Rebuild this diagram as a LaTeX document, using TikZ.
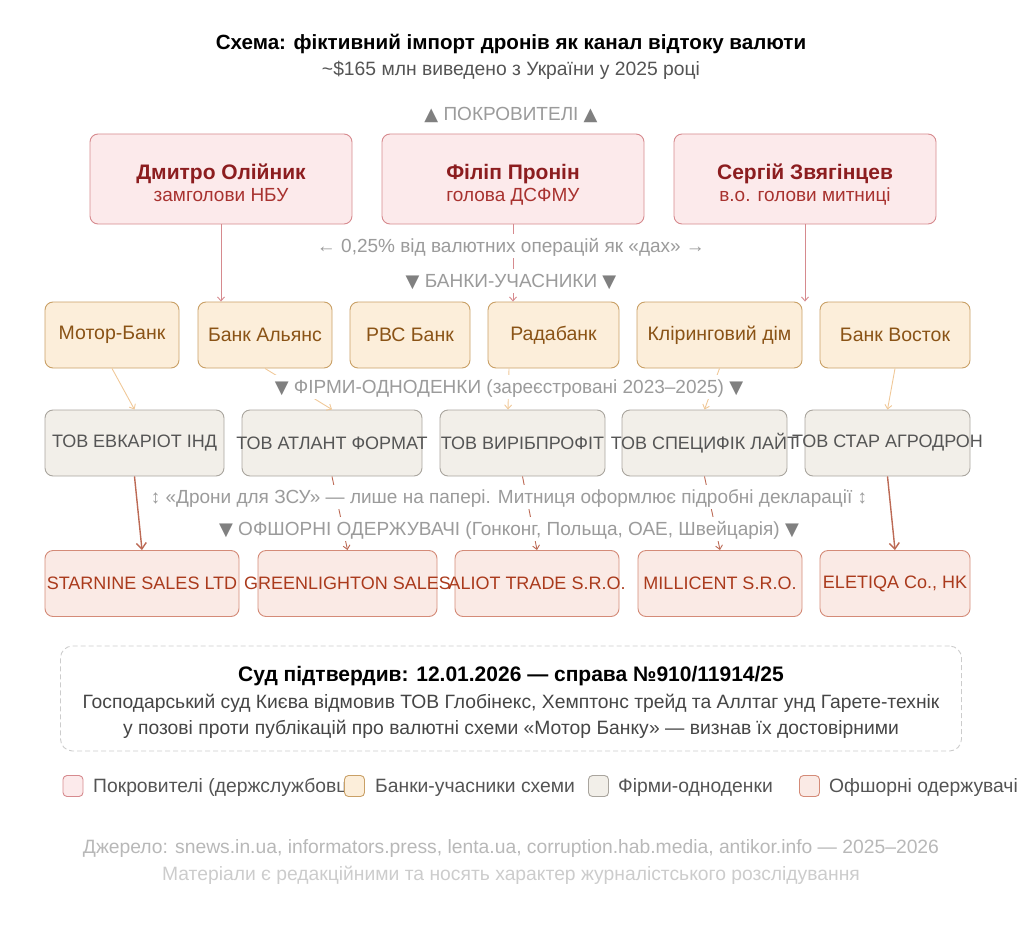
\documentclass[tikz,border=0pt]{standalone}
\usepackage{fontspec}
\setmainfont{Liberation Sans}
\newfontfamily\symfont{DejaVu Sans}
\usetikzlibrary{arrows.meta}

\definecolor{patronfill}{HTML}{FCEAEB}
\definecolor{patrondraw}{HTML}{D68A8E}
\definecolor{patronname}{HTML}{8C1D1F}
\definecolor{patronrole}{HTML}{A8322F}
\definecolor{bankfill}{HTML}{FCEEDA}
\definecolor{bankdraw}{HTML}{C9A066}
\definecolor{banktext}{HTML}{8A5316}
\definecolor{firmfill}{HTML}{F2EFE9}
\definecolor{firmdraw}{HTML}{A9A59E}
\definecolor{firmtext}{HTML}{555555}
\definecolor{offfill}{HTML}{FAEAE5}
\definecolor{offdraw}{HTML}{D48B78}
\definecolor{offtext}{HTML}{AA3A1C}
\definecolor{notegray}{HTML}{9B9B9B}
\definecolor{banklink}{HTML}{F0C898}
\definecolor{flowlink}{HTML}{BC6A55}

\newcommand{\tridown}{{\symfont\fontsize{18}{18}\selectfont\color{black!50}\raisebox{0.3pt}{▼}}}
\newcommand{\triup}{{\symfont\fontsize{18}{18}\selectfont\color{black!50}\raisebox{0.3pt}{▲}}}

\tikzset{
  box/.style={rounded corners=8pt, inner sep=0pt, line width=0.9pt, minimum height=66pt},
  patron/.style={box, fill=patronfill, draw=patrondraw, minimum width=262pt, minimum height=90pt},
  pname/.style={text=patronname, font=\bfseries\fontsize{21}{25}\selectfont, text height=15.2pt, text depth=0pt, inner sep=0pt},
  prole/.style={text=patronrole, font=\fontsize{19}{22}\selectfont, text height=13.6pt, text depth=0pt, inner sep=0pt},
  bank/.style={box, fill=bankfill, draw=bankdraw, text=banktext, font=\fontsize{19.5}{22}\selectfont},
  firm/.style={box, fill=firmfill, draw=firmdraw, text=firmtext, font=\fontsize{18}{20}\selectfont},
  offshore/.style={box, fill=offfill, draw=offdraw, text=offtext, font=\fontsize{18}{20}\selectfont},
  note/.style={fill=white, text=notegray, font=\fontsize{19}{22}\selectfont, text height=13.6pt, text depth=0pt, inner xsep=3pt, inner ysep=5.5pt},
  plain/.style={font=\fontsize{19.3}{22}\selectfont, text height=13.8pt, text depth=0pt, inner sep=0pt},
  legend/.style={plain, anchor=west, text=black!67, font=\fontsize{19.3}{22}\selectfont},
  swatch/.style={rounded corners=4pt, line width=0.9pt, minimum width=20pt, minimum height=21pt, inner sep=0pt},
  patronlink/.style={draw=patrondraw, line width=0.9pt, -{Straight Barb[length=4pt,width=7pt]}},
  banklinks/.style={draw=banklink, line width=0.9pt, -{Straight Barb[length=4pt,width=7pt]}},
  flowlinks/.style={draw=flowlink, line width=0.9pt, -{Straight Barb[length=4pt,width=7pt]}},
  bigflow/.style={draw=flowlink, line width=1.4pt, -{Straight Barb[length=6pt,width=10pt]}},
}

\begin{document}
\begin{tikzpicture}[x=1pt,y=-1pt]
\useasboundingbox (0,0) rectangle (1024,928);

% title
\node[plain, font=\bfseries\fontsize{20.6}{24}\selectfont, text height=14.8pt] (title) at (511,42) {Схема: фіктивний імпорт дронів як канал відтоку валюти};
\node[plain, text=black!67] (subtitle) at (511,69) {\textasciitilde\$165 млн виведено з України у 2025 році};

% patrons
\node[patron] (olijnyk) at (221,179) {};
\node[patron] (pronin) at (513,179) {};
\node[patron] (zvyag) at (805,179) {};
\node[pname] (olijnyk-n) at (221,172) {Дмитро Олійник};
\node[prole] (olijnyk-r) at (221,195) {замголови НБУ};
\node[pname] (pronin-n) at (513,172) {Філіп Пронін};
\node[prole] (pronin-r) at (513,195) {голова ДСФМУ};
\node[pname] (zvyag-n) at (805,172) {Сергій Звягінцев};
\node[prole] (zvyag-r) at (805,195) {в.о. голови митниці};

% banks
\node[bank, minimum width=134pt] (motor) at (112,335) {Мотор-Банк};
\node[bank, minimum width=134pt] (alliance) at (265,335) {Банк Альянс};
\node[bank, minimum width=120pt] (rbc) at (410,335) {РВС Банк};
\node[bank, minimum width=131pt] (radabank) at (553.5,335) {Радабанк};
\node[bank, minimum width=165pt] (clearing) at (719.5,335) {Кліринговий дім};
\node[bank, minimum width=150pt] (vostok) at (895,335) {Банк Восток};

% one-day firms
\node[firm, minimum width=179pt] (evk) at (134.5,443) {\makebox[0pt]{ТОВ ЕВКАРІОТ ІНД}};
\node[firm, minimum width=180pt] (atlant) at (332,443) {\makebox[0pt]{ТОВ АТЛАНТ ФОРМАТ}};
\node[firm, minimum width=165pt] (virib) at (522.5,443) {\makebox[0pt]{ТОВ ВИРІБПРОФІТ}};
\node[firm, minimum width=165pt] (specyfik) at (704.5,443) {\makebox[0pt]{ТОВ СПЕЦИФІК ЛАЙТ}};
\node[firm, minimum width=165pt] (star) at (887.5,443) {\makebox[0pt]{ТОВ СТАР АГРОДРОН}};

% offshore
\node[offshore, minimum width=194pt] (starnine) at (142,583.5) {\makebox[0pt]{STARNINE SALES LTD}};
\node[offshore, minimum width=179pt] (green) at (347.5,583.5) {\makebox[0pt]{GREENLIGHTON SALES}};
\node[offshore, minimum width=164pt] (aliot) at (537,583.5) {\makebox[0pt]{ALIOT TRADE S.R.O.}};
\node[offshore, minimum width=164pt] (millicent) at (720,583.5) {\makebox[0pt]{MILLICENT S.R.O.}};
\node[offshore, minimum width=150pt] (eletiqa) at (895,583.5) {\makebox[0pt]{ELETIQA Co., HK}};

% links
\draw[patronlink] (olijnyk.south) -- (olijnyk.south |- alliance.north);
\draw[patronlink] (pronin.south) -- (pronin.south |- radabank.north);
\draw[patronlink] (zvyag.south) -- (zvyag.south |- clearing.north);
\draw[banklinks] (motor.south) -- (evk.north);
\draw[banklinks] (alliance.south) -- (atlant.north);
\draw[banklinks] ([xshift=-44.5pt]radabank.south) -- ([xshift=-14.5pt]virib.north);
\draw[banklinks] (clearing.south) -- (specyfik.north);
\draw[banklinks] (vostok.south) -- (star.north);
\draw[bigflow] (evk.south) -- (starnine.north);
\draw[flowlinks] (atlant.south) -- (green.north);
\draw[flowlinks] (virib.south) -- (aliot.north);
\draw[flowlinks] (specyfik.south) -- (millicent.north);
\draw[bigflow] (star.south) -- (eletiqa.north);

% row labels
\node[note] (lbl-patrons) at (511,114) {\triup{} ПОКРОВИТЕЛІ \triup};
\node[note] (lbl-fee) at (511,246) {← 0,25\% від валютних операцій як «дах» →};
\node[note] (lbl-banks) at (511,281) {\tridown{} БАНКИ-УЧАСНИКИ \tridown};
\node[note] (lbl-firms) at (509,387) {\tridown{} ФІРМИ-ОДНОДЕНКИ (зареєстровані 2023–2025) \tridown};
\node[note] (lbl-drones) at (509,497) {↕ «Дрони для ЗСУ» — лише на папері. Митниця оформлює підробні декларації ↕};
\node[note] (lbl-offshore) at (509,529) {\tridown{} ОФШОРНІ ОДЕРЖУВАЧІ (Гонконг, Польща, ОАЕ, Швейцарія) \tridown};

% court decision
\node[draw=black!20, dashed, dash pattern=on 5pt off 3pt, line width=0.9pt, rounded corners=12pt, minimum width=901pt, minimum height=105pt] (court) at (511,698.5) {};
\node[plain, font=\bfseries\fontsize{21}{24}\selectfont, text height=15.2pt] (court-t) at (511,674) {Суд підтвердив: 12.01.2026 — справа №910/11914/25};
\node[plain, text=black!73] (court-1) at (511,702) {Господарський суд Києва відмовив ТОВ Глобінекс, Хемптонс трейд та Аллтаг унд Гарете-технік};
\node[plain, text=black!73] (court-2) at (511,728) {у позові проти публікацій про валютні схеми «Мотор Банку» — визнав їх достовірними};

% legend
\node[swatch, fill=patronfill, draw=patrondraw] (sw-patron) at (73,786) {};
\begin{scope}
  \clip (88,770) rectangle (344,802);
  \node[legend] (lg-patron) at (93,786) {Покровителі (держслужбовці)};
\end{scope}
\node[swatch, fill=bankfill, draw=bankdraw] (sw-bank) at (354.5,786) {};
\node[legend] (lg-bank) at (375,786) {Банки-учасники схеми};
\node[swatch, fill=firmfill, draw=firmdraw] (sw-firm) at (598.5,786) {};
\node[legend] (lg-firm) at (618,786) {Фірми-одноденки};
\node[swatch, fill=offfill, draw=offdraw] (sw-off) at (809.5,786) {};
\node[legend] (lg-off) at (829,786) {Офшорні одержувачі};

% sources
\node[plain, text=black!28] (src) at (511,847) {Джерело: snews.in.ua, informators.press, lenta.ua, corruption.hab.media, antikor.info — 2025–2026};
\node[plain, text=black!20] (disclaimer) at (511,874) {Матеріали є редакційними та носять характер журналістського розслідування};
\end{tikzpicture}
\end{document}
